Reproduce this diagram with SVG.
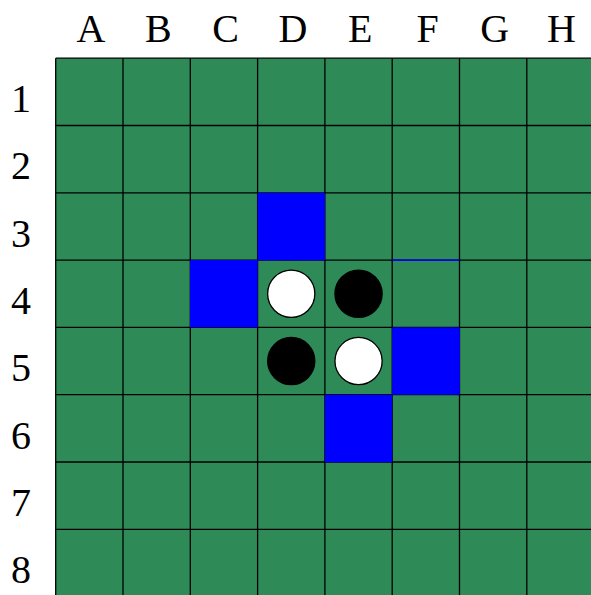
<svg xmlns="http://www.w3.org/2000/svg" width="591" height="595" viewBox="0 0 591 595">
<style>
.lbl{font-family:"Liberation Serif","DejaVu Serif",serif;font-size:40px;fill:#000;text-anchor:middle}
.grid line{stroke:#000;stroke-width:1.3}
.blue{fill:#0000ff}
.w{fill:#fff;stroke:#000;stroke-width:1.3}
.b{fill:#000;stroke:#000;stroke-width:1.3}
</style>
<rect width="591" height="595" fill="#fff"/>
<g id="board">
<rect x="55.7" y="58.2" width="540" height="540" fill="#2e8b57"/>
</g>
<g id="grid" class="grid">
<line x1="55.7" y1="58.2" x2="55.7" y2="600"/>
<line x1="123" y1="58.2" x2="123" y2="600"/>
<line x1="190.3" y1="58.2" x2="190.3" y2="600"/>
<line x1="257.6" y1="58.2" x2="257.6" y2="600"/>
<line x1="324.9" y1="58.2" x2="324.9" y2="600"/>
<line x1="392.2" y1="58.2" x2="392.2" y2="600"/>
<line x1="459.5" y1="58.2" x2="459.5" y2="600"/>
<line x1="526.8" y1="58.2" x2="526.8" y2="600"/>
<line x1="55.7" y1="58.2" x2="600" y2="58.2"/>
<line x1="55.7" y1="125.5" x2="600" y2="125.5"/>
<line x1="55.7" y1="192.8" x2="600" y2="192.8"/>
<line x1="55.7" y1="260.1" x2="600" y2="260.1"/>
<line x1="55.7" y1="327.4" x2="600" y2="327.4"/>
<line x1="55.7" y1="394.7" x2="600" y2="394.7"/>
<line x1="55.7" y1="462" x2="600" y2="462"/>
<line x1="55.7" y1="529.3" x2="600" y2="529.3"/>
</g>
<g id="moves">
<rect class="blue" x="257.6" y="192.8" width="67.3" height="67.6"/>
<rect class="blue" x="190" y="260.1" width="67.6" height="67.3"/>
<rect class="blue" x="392.2" y="327.4" width="67.6" height="67.3"/>
<rect class="blue" x="324.9" y="394.7" width="67.3" height="67.6"/>
<rect class="blue" x="392.2" y="259.4" width="67.3" height="1.5"/>
</g>
<g id="discs">
<circle class="w" cx="291.25" cy="293.75" r="23.6"/>
<circle class="b" cx="358.55" cy="293.75" r="23.6"/>
<circle class="b" cx="291.25" cy="361.05" r="23.6"/>
<circle class="w" cx="358.55" cy="361.05" r="23.6"/>
</g>
<g id="col-labels">
<text class="lbl" x="91" y="42">A</text>
<text class="lbl" x="158.3" y="42">B</text>
<text class="lbl" x="225.6" y="42">C</text>
<text class="lbl" x="292.9" y="42">D</text>
<text class="lbl" x="360.2" y="42">E</text>
<text class="lbl" x="427.5" y="42">F</text>
<text class="lbl" x="494.8" y="42">G</text>
<text class="lbl" x="561.5" y="42">H</text>
</g>
<g id="row-labels">
<text class="lbl" x="21" y="112">1</text>
<text class="lbl" x="21" y="179.3">2</text>
<text class="lbl" x="21" y="246.6">3</text>
<text class="lbl" x="21" y="313.9">4</text>
<text class="lbl" x="21" y="381.2">5</text>
<text class="lbl" x="21" y="448.5">6</text>
<text class="lbl" x="21" y="515.8">7</text>
<text class="lbl" x="21" y="583.1">8</text>
</g>
</svg>
